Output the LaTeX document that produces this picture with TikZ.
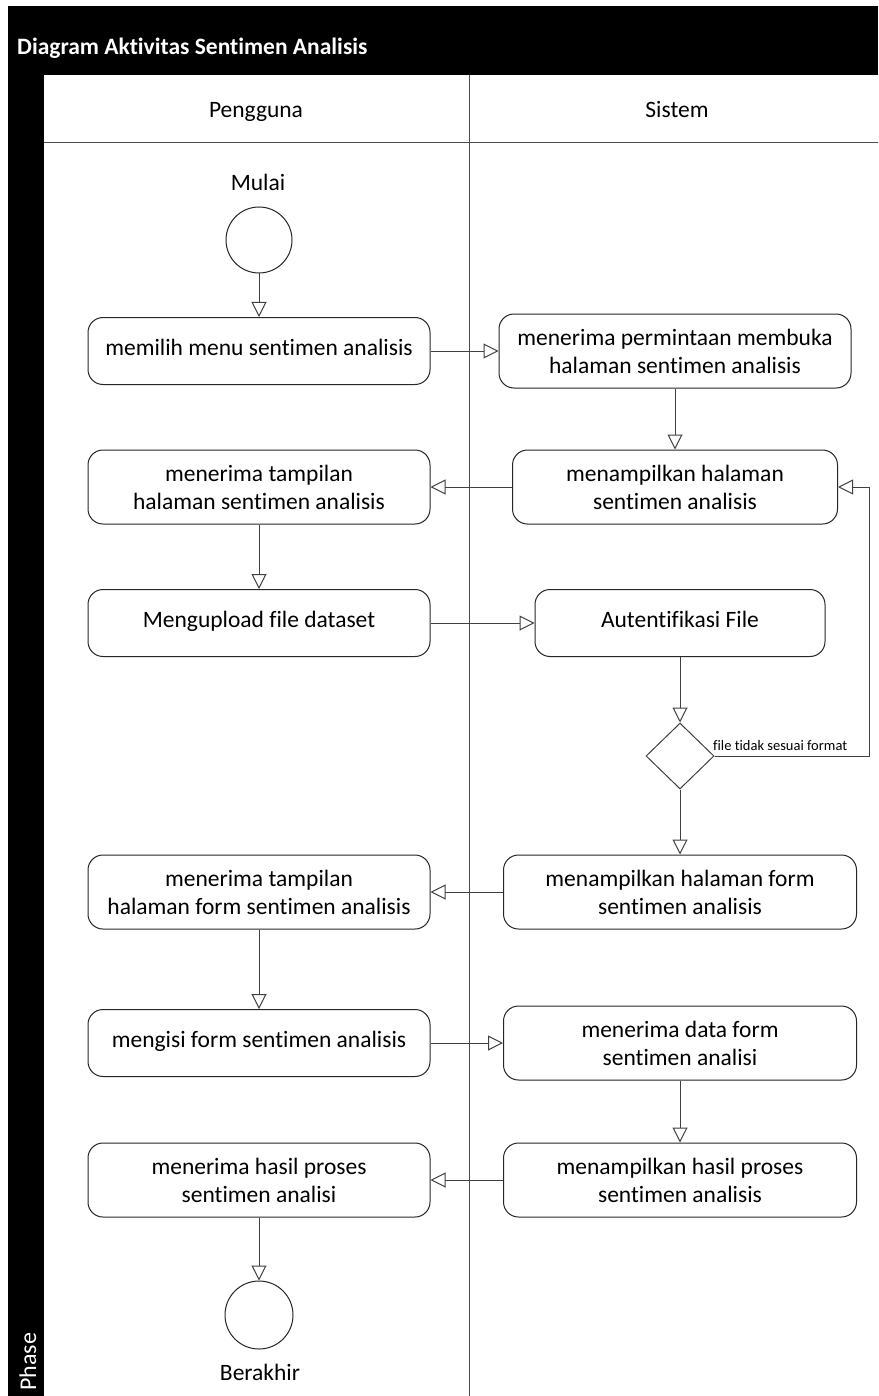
\documentclass[tikz,border=0pt]{standalone}
\usepackage{fontspec}
\setmainfont{Carlito}[RawFeature={-liga;-clig;-calt;-dlig}]
\usetikzlibrary{arrows.meta,shapes.geometric}
\begin{document}
\begin{tikzpicture}[x=1pt,y=-1pt,
  act/.style={draw=black!85, line width=1pt, rounded corners=15pt, align=center,
    font=\fontsize{23.5}{28}\selectfont, inner sep=0pt},
  one/.style={text height=15pt, text depth=6pt},
  term/.style={draw=black!85, line width=1pt, circle, minimum size=66pt, inner sep=0pt},
  flow/.style={draw=black!75, line width=1pt, -{Triangle[open,length=15pt,width=15pt]}},
  lbl/.style={font=\fontsize{23.5}{28}\selectfont, inner sep=0pt},
  lane/.style={draw=black!70, line width=1pt}]
\useasboundingbox (0,0) rectangle (878,1396);
% frame
\fill[black] (8,6) rectangle (878,1396);
\fill[white] (44,75) rectangle (878,1396);
\draw[lane] (44,143) -- (878,143);
\draw[lane] (469,75) -- (469,1396);
\node[anchor=west, text=white, font=\fontsize{23.5}{28}\selectfont\bfseries, inner sep=0pt] (title) at (17,48) {Diagram Aktivitas Sentimen Analisis};
\node[rotate=90, anchor=west, text=white, font=\fontsize{24}{28}\selectfont, inner sep=0pt] (phase) at (28,1391) {Phase};
\node[lbl, anchor=base] (hp) at (256,118) {Pengguna};
\node[lbl, anchor=base] (hs) at (677,118) {Sistem};
% nodes
\node[lbl, anchor=base] (mulai) at (258,191) {Mulai};
\node[term] (start) at (259,240) {};
\node[act, one, minimum width=342pt, minimum height=67pt] (b1) at (259,351) {memilih menu sentimen analisis};
\node[act, minimum width=352pt, minimum height=74pt] (b2) at (675,351) {menerima permintaan membuka\\halaman sentimen analisis};
\node[act, minimum width=325pt, minimum height=74pt] (b3) at (675,487) {menampilkan halaman\\sentimen analisis};
\node[act, minimum width=342pt, minimum height=74pt] (b4) at (259,487) {menerima tampilan\\halaman sentimen analisis};
\node[act, one, minimum width=342pt, minimum height=67pt] (b5) at (259,623) {Mengupload file dataset};
\node[act, one, minimum width=290pt, minimum height=67pt] (b6) at (680,623) {Autentifikasi File};
\node[draw=black!75, line width=1pt, diamond, minimum width=68pt, minimum height=66pt, inner sep=0pt] (dia) at (680,756) {};
\node[act, minimum width=353pt, minimum height=74pt] (b7) at (680,892) {menampilkan halaman form\\sentimen analisis};
\node[act, minimum width=342pt, minimum height=74pt] (b8) at (259,892) {menerima tampilan\\halaman form sentimen analisis};
\node[act, one, minimum width=342pt, minimum height=67pt] (b9) at (259,1043) {mengisi form sentimen analisis};
\node[act, minimum width=353pt, minimum height=74pt] (b10) at (680,1043) {menerima data form\\sentimen analisi};
\node[act, minimum width=353pt, minimum height=74pt] (b11) at (680,1180) {menampilkan hasil proses\\sentimen analisis};
\node[act, minimum width=342pt, minimum height=74pt] (b12) at (259,1180) {menerima hasil proses\\sentimen analisi};
\node[term, minimum size=68pt] (end) at (259,1315) {};
\node[lbl, anchor=base] (berakhir) at (260,1380) {Berakhir};
% connectors
\draw[flow] (start) -- (b1);
\draw[flow] (b1) -- (b2);
\draw[flow] (b2) -- (b3);
\draw[flow] (b3) -- (b4);
\draw[flow] (b4) -- (b5);
\draw[flow] (b5) -- (b6);
\draw[flow] (b6) -- (dia);
\coordinate (loop) at (869,620);
\draw[flow] (dia.east) -- (dia.east -| loop) |- (b3.east);
\node[anchor=base west, font=\fontsize{14.5}{17}\selectfont, inner sep=0pt] (lab) at (713,750) {file tidak sesuai format};
\draw[flow] (dia) -- (b7);
\draw[flow] (b7) -- (b8);
\draw[flow] (b8) -- (b9);
\draw[flow] (b9) -- (b10);
\draw[flow] (b10) -- (b11);
\draw[flow] (b11) -- (b12);
\draw[flow] (b12) -- (end);
\end{tikzpicture}
\end{document}
